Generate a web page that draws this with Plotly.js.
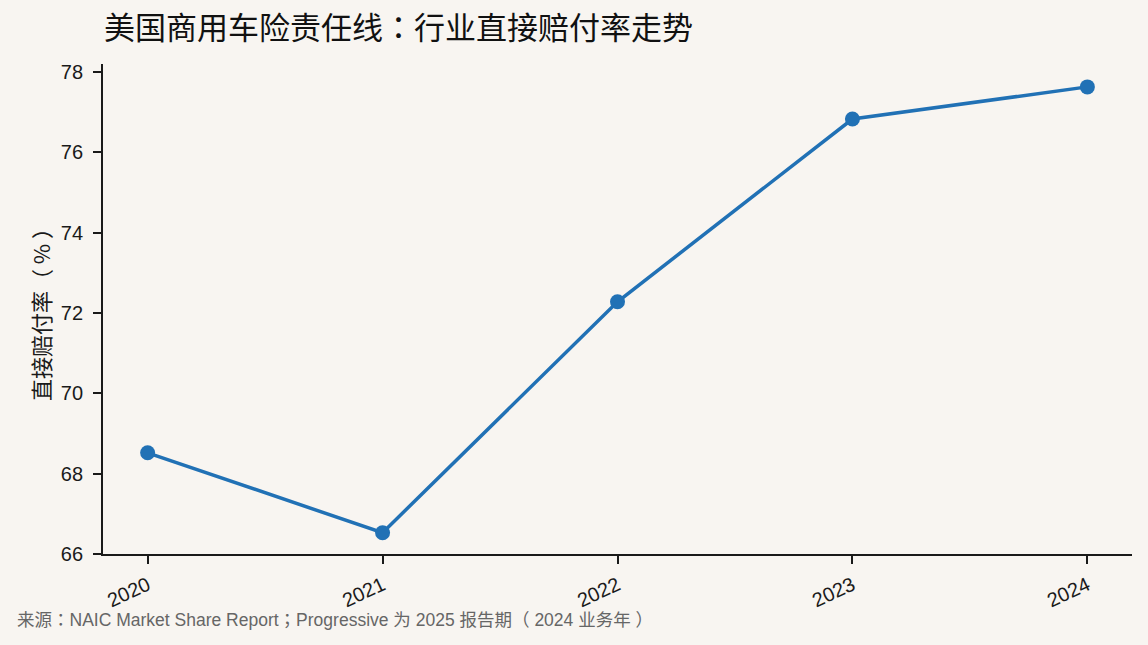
<!DOCTYPE html>
<html>
<head>
<meta charset="utf-8">
<script src="https://cdn.plot.ly/plotly-3.0.1.min.js"></script>
<style>
  html, body { margin: 0; padding: 0; background: #f8f5f1; }
  #chart { width: 1148px; height: 645px; }
</style>
</head>
<body>
<div id="chart"></div>
<script>
// Years and industry direct loss ratio (%)
const years = [2020, 2021, 2022, 2023, 2024];
const lossRatio = [68.52, 66.53, 72.28, 76.83, 77.63];

const chartTitle = '美国商用车险责任线：行业直接赔付率走势';
const yTitle = '直接赔付率（ % ）';
const sourceNote = '来源：NAIC Market Share Report；Progressive 为 2025 报告期（ 2024 业务年 ）';

// TC variant centres full-width punctuation like the reference
const latin = '"Liberation Sans", Arial, "Noto Sans CJK TC", sans-serif';
const cjk = '"Noto Sans CJK TC", "Noto Sans CJK SC", sans-serif';

const data = [{
  x: years,
  y: lossRatio,
  type: 'scatter',
  mode: 'lines+markers',
  line: {color: '#2171b5', width: 3.5},
  marker: {color: '#2171b5', size: 15},
  hoverinfo: 'x+y'
}];

const layout = {
  width: 1148,
  height: 645,
  paper_bgcolor: '#f8f5f1',
  plot_bgcolor: '#f8f5f1',
  margin: {l: 103, r: 16, t: 64, b: 91},
  font: {family: latin, color: '#1a1a1a', size: 20},
  showlegend: false,
  title: {
    text: chartTitle,
    font: {family: cjk, size: 31, color: '#111'},
    x: 104 / 1148, xref: 'container', xanchor: 'left',
    y: 1 - 28 / 645, yref: 'container', yanchor: 'middle'
  },
  xaxis: {
    range: [2019.81, 2024.19],
    tickvals: years,
    ticktext: years.map(String),
    tickangle: -25,
    ticks: 'outside', ticklen: 8, tickwidth: 1.6, tickcolor: '#1a1a1a',
    ticklabelstandoff: 2,
    showline: true, linecolor: '#1a1a1a', linewidth: 1.8,
    showgrid: false, zeroline: false,
    tickfont: {size: 20}
  },
  yaxis: {
    range: [66, 78.2],
    dtick: 2,
    ticks: 'outside', ticklen: 8, tickwidth: 1.6, tickcolor: '#1a1a1a',
    ticklabelstandoff: 6,
    showline: true, linecolor: '#1a1a1a', linewidth: 1.8,
    showgrid: false, zeroline: false,
    tickfont: {size: 20},
    title: {
      text: yTitle,
      font: {family: cjk, size: 22},
      standoff: 4
    }
  },
  annotations: [{
    text: sourceNote,
    xref: 'paper', yref: 'paper',
    x: (15 - 103) / 1029, y: (554 - 620) / 490,
    xanchor: 'left', yanchor: 'middle',
    showarrow: false,
    font: {family: latin, size: 17.5, color: '#666'}
  }]
};

Plotly.newPlot('chart', data, layout, {displayModeBar: false});
</script>
</body>
</html>
